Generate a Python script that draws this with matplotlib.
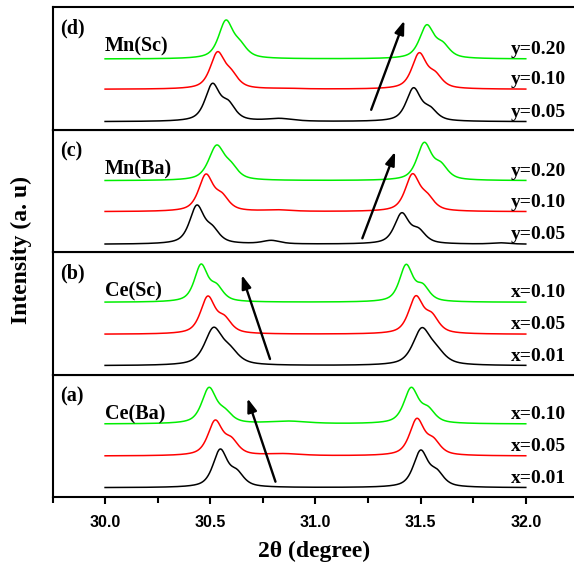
import numpy as np
import matplotlib.pyplot as plt
from matplotlib.ticker import MultipleLocator

# XRD detail of the (110)-type doublets, four sample series stacked bottom -> top
panel_tags = ['(a)', '(b)', '(c)', '(d)']
panel_names = ['Ce(Ba)', 'Ce(Sc)', 'Mn(Ba)', 'Mn(Sc)']
curve_labels = [
    ['x=0.01', 'x=0.05', 'x=0.10'],
    ['x=0.01', 'x=0.05', 'x=0.10'],
    ['y=0.05', 'y=0.10', 'y=0.20'],
    ['y=0.05', 'y=0.10', 'y=0.20'],
]
curve_colors = ['black', 'red', '#00ee00']

# offset of each trace inside its panel
baselines = [
    [9.3, 41.0, 73.0],
    [8.8, 40.2, 72.2],
    [7.7, 40.3, 71.3],
    [7.8, 40.2, 70.5],
]

# (2theta, height above baseline, FWHM) for every reflection / shoulder
peaks = [
    [  # Ce(Ba)
        [(30.547, 38.7, 0.082), (30.626, 18.7, 0.08), (31.500, 37.7, 0.082), (31.577, 19.0, 0.08)],
        [(30.523, 36.0, 0.082), (30.600, 19.3, 0.08), (30.850, 2.5, 0.20),
         (31.482, 37.7, 0.082), (31.560, 19.0, 0.08)],
        [(30.494, 36.7, 0.082), (30.570, 16.0, 0.08), (30.870, 3.0, 0.22),
         (31.455, 36.7, 0.082), (31.535, 18.0, 0.08)],
    ],
    [  # Ce(Sc)
        [(30.515, 38.4, 0.10), (30.594, 20.7, 0.10), (31.505, 38.0, 0.10), (31.577, 20.7, 0.10)],
        [(30.488, 38.3, 0.082), (30.567, 19.3, 0.08), (31.477, 38.6, 0.082), (31.553, 22.0, 0.08)],
        [(30.456, 38.3, 0.075), (30.530, 19.0, 0.075), (31.431, 38.0, 0.075), (31.510, 19.0, 0.075)],
    ],
    [  # Mn(Ba)
        [(30.436, 39.3, 0.082), (30.510, 19.3, 0.08), (30.790, 4.0, 0.10),
         (31.410, 31.6, 0.082), (31.490, 16.6, 0.08), (31.880, 1.5, 0.10)],
        [(30.479, 37.7, 0.082), (30.555, 19.4, 0.08), (30.820, 2.0, 0.15),
         (31.461, 38.0, 0.082), (31.532, 19.0, 0.08)],
        [(30.530, 35.7, 0.09), (30.600, 19.0, 0.08), (31.517, 38.4, 0.082), (31.596, 19.0, 0.08)],
    ],
    [  # Mn(Sc)
        [(30.510, 38.4, 0.082), (30.586, 21.7, 0.08), (30.830, 3.4, 0.15),
         (31.466, 34.0, 0.082), (31.545, 15.7, 0.08)],
        [(30.534, 37.6, 0.082), (30.600, 20.3, 0.08), (30.860, 1.2, 0.15),
         (31.493, 36.6, 0.082), (31.569, 18.3, 0.08)],
        [(30.574, 39.0, 0.082), (30.642, 19.0, 0.08), (31.529, 34.3, 0.082), (31.605, 17.6, 0.08)],
    ],
]

# shift arrows: (tail, head) in data coords of each panel
arrows = [
    ((30.810, 15.3), (30.677, 98.7)),
    ((30.784, 15.5), (30.650, 99.5)),
    ((31.223, 13.7), (31.379, 100.3)),
    ((31.265, 19.7), (31.423, 109.0)),
]

two_theta = np.linspace(30.0, 32.0, 1201)


def pseudo_voigt(x, x0, fwhm, eta=0.65):
    hw = fwhm / 2.0
    lor = 1.0 / (1.0 + ((x - x0) / hw) ** 2)
    gau = np.exp(-np.log(2) * ((x - x0) / hw) ** 2)
    return eta * lor + (1 - eta) * gau


def pattern(x, plist):
    # pick amplitudes so the summed profile hits each listed height
    pos = np.array([p[0] for p in plist])
    lev = np.array([p[1] for p in plist])
    wid = np.array([p[2] for p in plist])
    A = np.array([[pseudo_voigt(xi, pj, wj) for pj, wj in zip(pos, wid)] for xi in pos])
    amp = np.linalg.solve(A, lev)
    y = np.zeros_like(x)
    for a, p, w in zip(amp, pos, wid):
        y += a * pseudo_voigt(x, p, w)
    return y


W, H = 574, 564
fig = plt.figure(figsize=(W / 100, H / 100), dpi=100)

serif = 'Liberation Serif'
sans = 'Liberation Sans'

x_lo, x_hi = 29.75, 32.25
px_per_deg = 210.35
ax_left = 52.5
ax_width = (x_hi - x_lo) * px_per_deg
panel_h = 122.5
panel_bottoms = [497, 374.5, 252, 129.5]

for i in range(4):
    ax = fig.add_axes([ax_left / W, (H - panel_bottoms[i]) / H, ax_width / W, panel_h / H])
    ax.set_xlim(x_lo, x_hi)
    ax.set_ylim(0, panel_h)
    for s in ax.spines.values():
        s.set_linewidth(1.5)
    ax.set_yticks([])

    for j in range(3):
        y = baselines[i][j] + pattern(two_theta, peaks[i][j])
        ax.plot(two_theta, y, color=curve_colors[j], lw=1.1)
        ax.text(31.93, baselines[i][j] + 9.5, curve_labels[i][j], ha='left', va='center',
                fontsize=14, fontweight='bold', family=serif)

    ax.text(29.786, 101, panel_tags[i], ha='left', va='center',
            fontsize=14.5, fontweight='bold', family=serif)
    ax.text(30.0, 83, panel_names[i], ha='left', va='center',
            fontsize=14.5, fontweight='bold', family=serif)

    tail, head = arrows[i]
    ax.annotate('', xy=head, xytext=tail,
                arrowprops=dict(arrowstyle='-|>,head_length=0.8,head_width=0.28',
                                color='black', lw=1.7, shrinkA=0, shrinkB=0))

    if i == 0:
        ax.xaxis.set_major_locator(MultipleLocator(0.5))
        ax.xaxis.set_minor_locator(MultipleLocator(0.25))
        ax.set_xticks([30.0, 30.5, 31.0, 31.5, 32.0])
        ax.tick_params(axis='x', which='major', direction='out', length=5, width=1.5, pad=8)
        ax.tick_params(axis='x', which='minor', direction='out', length=4, width=1.5)
        for lab in ax.get_xticklabels():
            lab.set_fontfamily(sans)
            lab.set_fontweight('bold')
            lab.set_fontsize(11.5)
    else:
        ax.set_xticks([])
        ax.xaxis.set_minor_locator(plt.NullLocator())

fig.text(314 / W, 1 - 551 / H, '2θ (degree)', ha='center', va='center',
         fontsize=17, fontweight='bold', family=serif)
fig.text(21 / W, 1 - 250 / H, 'Intensity (a. u)', ha='center', va='center', rotation=90,
         fontsize=17, fontweight='bold', family=serif)

fig.savefig('out.png', dpi=100)
